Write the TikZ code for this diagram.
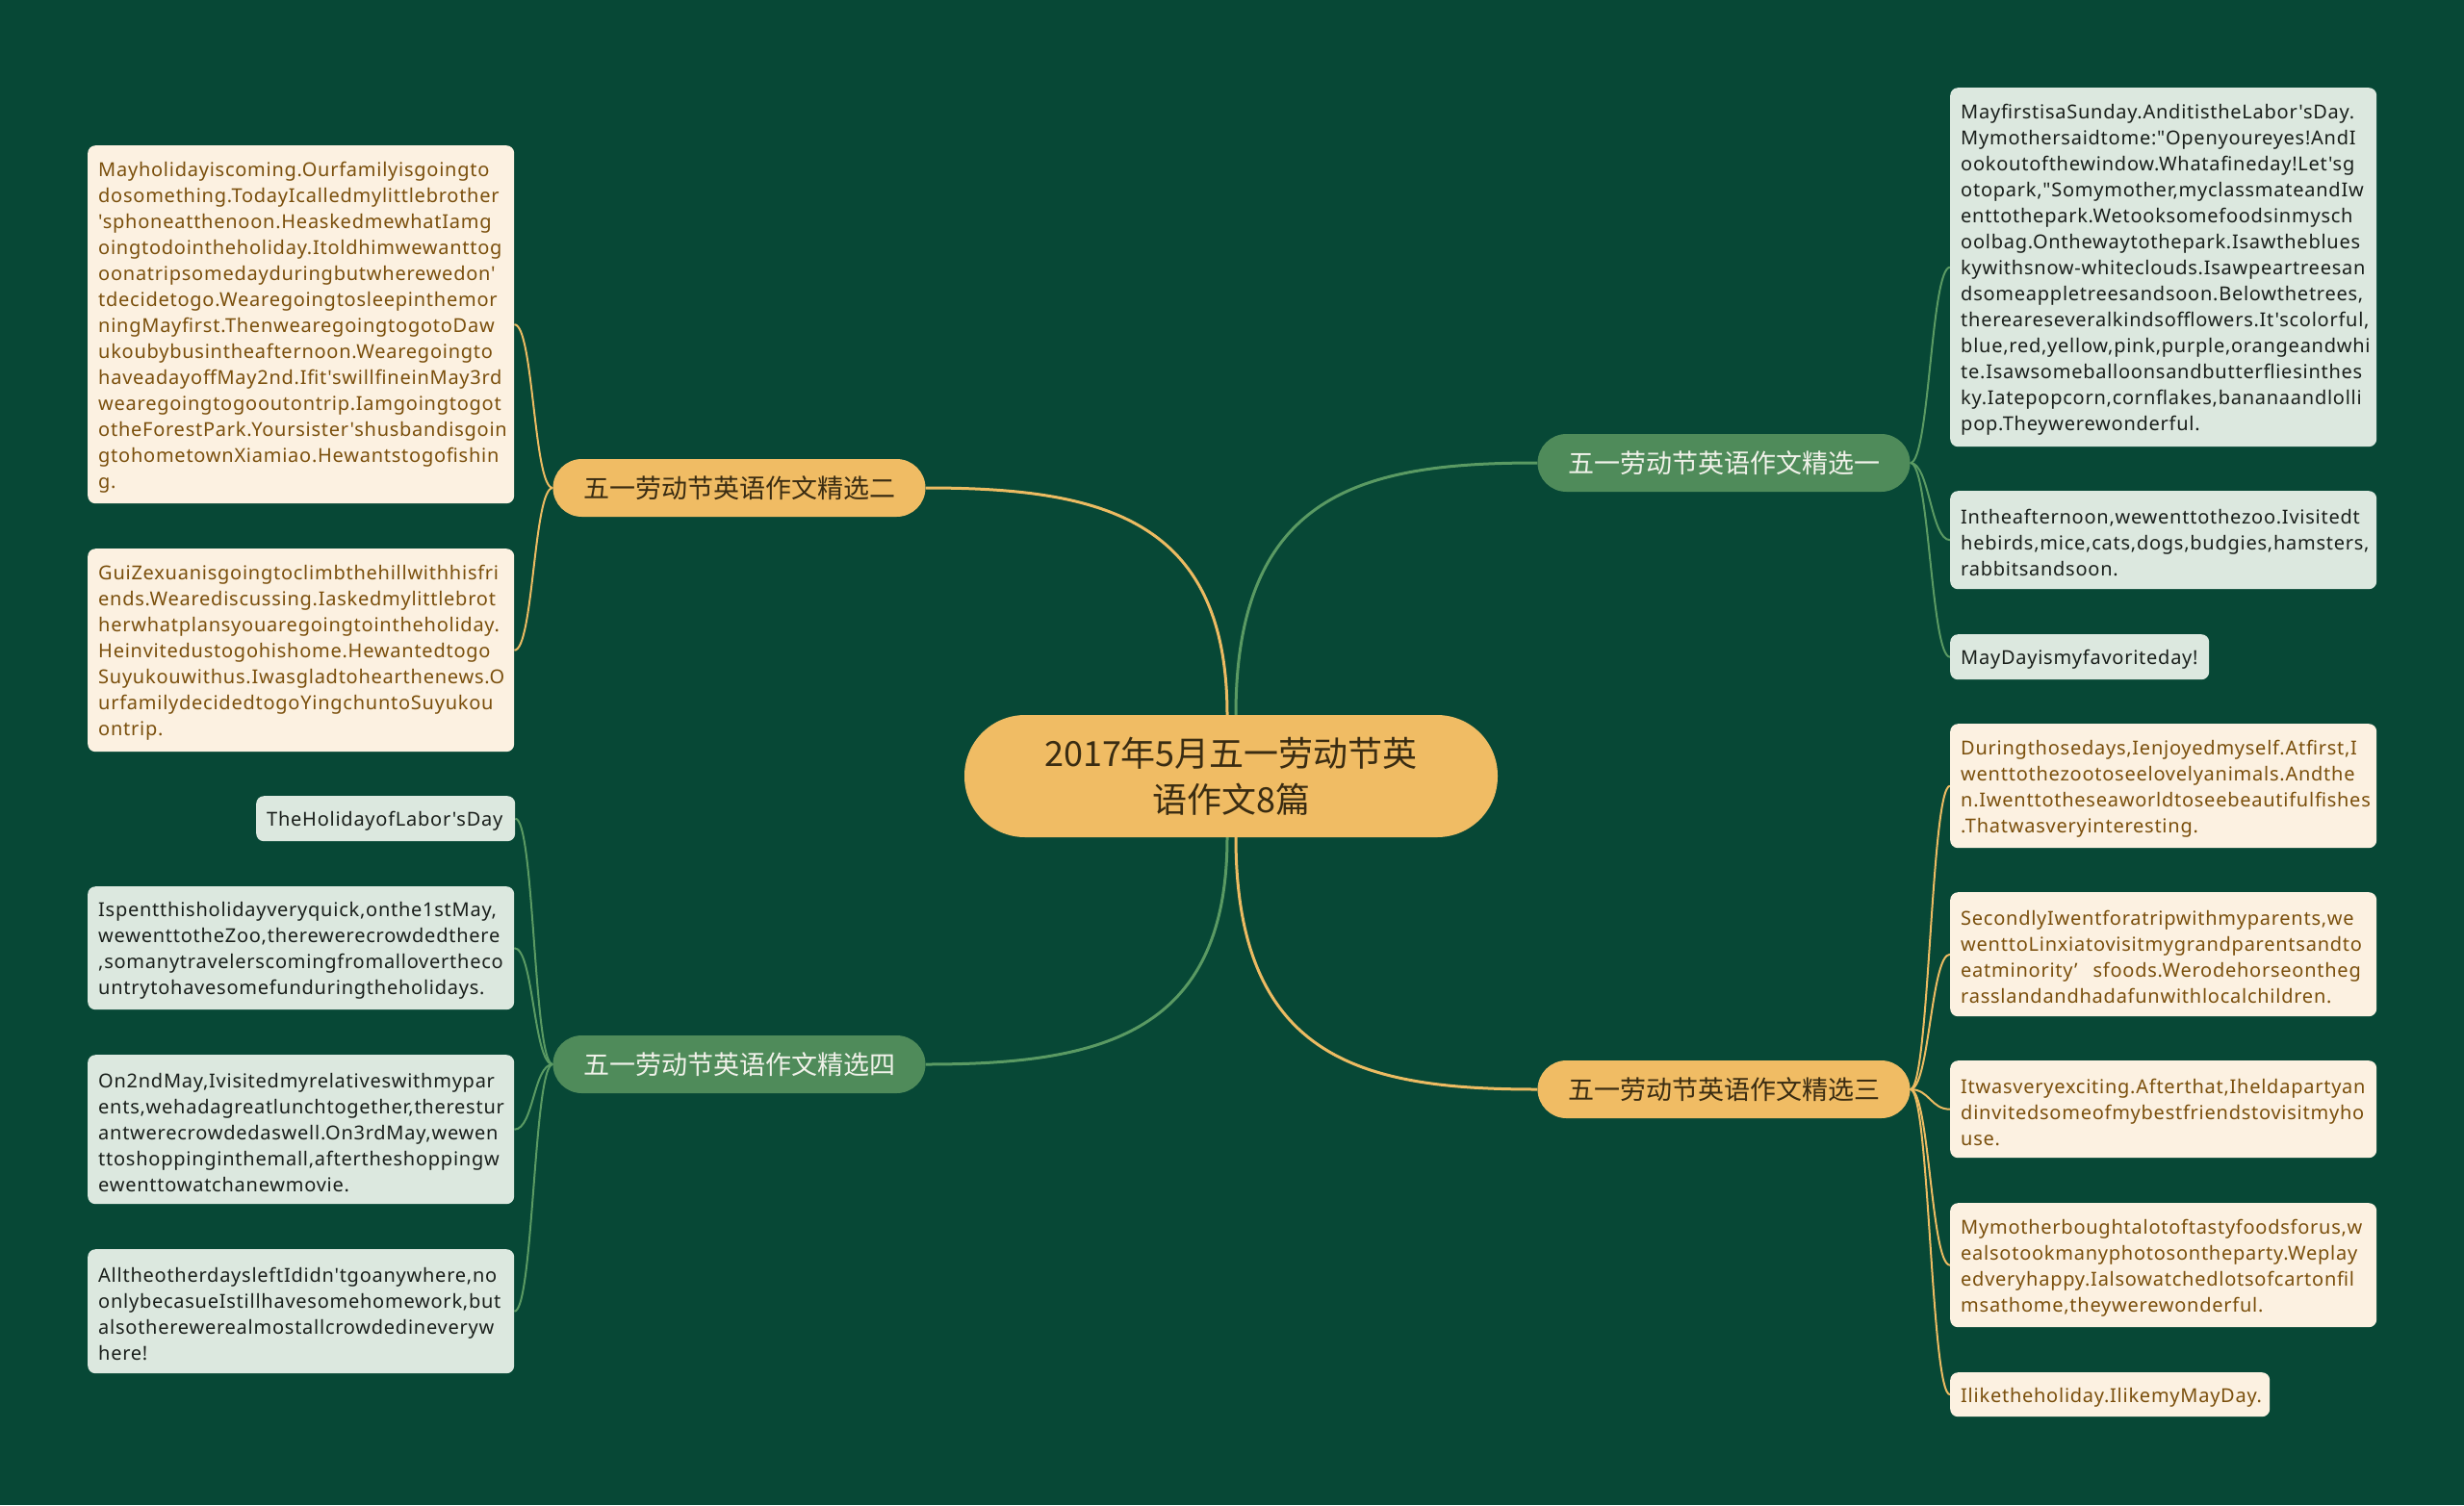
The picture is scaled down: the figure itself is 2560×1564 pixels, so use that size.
\documentclass[tikz,border=0pt]{standalone}
\usepackage{fontspec}
\newfontfamily\cjk{Noto Sans CJK SC}
\newfontfamily\leaffont{Noto Sans}[LetterSpace=3.75]
\definecolor{bgc}{HTML}{074836}
\definecolor{orangec}{HTML}{F0BC64}
\definecolor{greenb}{HTML}{4F8B5A}
\definecolor{creamc}{HTML}{FCF1E1}
\definecolor{palec}{HTML}{DCE8DF}
\definecolor{brownc}{HTML}{7A4F0C}
\definecolor{darkc}{HTML}{1A1F1B}
\definecolor{titlec}{HTML}{3A2C12}
\definecolor{lightt}{HTML}{F1F2EA}
\definecolor{olinec}{HTML}{ECBB62}
\definecolor{glinec}{HTML}{5A9A63}
\hyphenpenalty=10000
\exhyphenpenalty=10000
\pgfdeclarelayer{back}
\pgfdeclarelayer{lines}
\pgfsetlayers{back,lines,main}
\tikzset{
  leafbase/.style={rounded corners=8pt, inner xsep=11pt, inner ysep=0pt, align=left,
    font=\leaffont\fontsize{20}{27}\selectfont, anchor=north west,
    execute at begin node={\rule{0pt}{21pt}}},
  cream/.style={leafbase, fill=creamc, text=brownc},
  pale/.style={leafbase, fill=palec, text=darkc},
  branch/.style={rounded corners=30pt, minimum width=387pt, minimum height=60pt, inner sep=0pt,
    font=\cjk\fontsize{27}{32}\selectfont},
  obranch/.style={branch, fill=orangec, text=titlec},
  gbranch/.style={branch, fill=greenb, text=lightt},
  oline/.style={draw=olinec, line width=3pt},
  gline/.style={draw=glinec, line width=3pt},
  olinet/.style={draw=olinec, line width=2pt},
  glinet/.style={draw=glinec, line width=2pt}
}
\begin{document}
\begin{tikzpicture}[x=1pt,y=-1pt]
\begin{pgfonlayer}{back}
\fill[bgc] (0,0) rectangle (2560,1564);
\end{pgfonlayer}
\useasboundingbox (0,0) rectangle (2560,1564);

% center
\node[fill=orangec, rounded corners=63pt, minimum width=554pt, minimum height=127pt, inner sep=0pt,
  align=center, font=\cjk\fontsize{36}{48}\selectfont, text=titlec] (c) at (1279,806.5)
  {2017年5月五一劳动节英\\语作文8篇};

% branches
\node[obranch] (b2) at (768,507) {五一劳动节英语作文精选二};
\node[gbranch] (b4) at (768,1106) {五一劳动节英语作文精选四};
\node[gbranch] (b1) at (1791,481) {五一劳动节英语作文精选一};
\node[obranch] (b3) at (1791,1132) {五一劳动节英语作文精选三};

% left leaves
\node[cream, text width=421pt, minimum height=372pt] (l1) at (91,151) {Mayholidayiscoming.Ourfamilyisgoingto\\dosomething.TodayIcalledmylittlebrother\\'sphoneatthenoon.HeaskedmewhatIamg\\oingtodointheholiday.Itoldhimwewanttog\\oonatripsomedayduringbutwherewedon'\\tdecidetogo.Wearegoingtosleepinthemor\\ningMayfirst.ThenwearegoingtogotoDaw\\ukoubybusintheafternoon.Wearegoingto\\haveadayoffMay2nd.Ifit'swillfineinMay3rd\\wearegoingtogooutontrip.Iamgoingtogot\\otheForestPark.Yoursister'shusbandisgoin\\gtohometownXiamiao.Hewantstogofishin\\g.};
\node[cream, text width=421pt, minimum height=211pt] (l2) at (91,570) {GuiZexuanisgoingtoclimbthehillwithhisfri\\ends.Wearediscussing.Iaskedmylittlebrot\\herwhatplansyouaregoingtointheholiday.\\Heinvitedustogohishome.Hewantedtogo\\Suyukouwithus.Iwasgladtohearthenews.O\\urfamilydecidedtogoYingchuntoSuyukou\\ontrip.};
\node[pale, text width=247pt, minimum height=47pt] (l3) at (266,827) {TheHolidayofLabor'sDay};
\node[pale, text width=421pt, minimum height=128pt] (l4) at (91,921) {Ispentthisholidayveryquick,onthe1stMay,\\wewenttotheZoo,therewerecrowdedthere\\,somanytravelerscomingfromallovertheco\\untrytohavesomefunduringtheholidays.};
\node[pale, text width=421pt, minimum height=155pt] (l5) at (91,1096) {On2ndMay,Ivisitedmyrelativeswithmypar\\ents,wehadagreatlunchtogether,therestur\\antwerecrowdedaswell.On3rdMay,wewen\\ttoshoppinginthemall,aftertheshoppingw\\ewenttowatchanewmovie.};
\node[pale, text width=421pt, minimum height=129pt] (l6) at (91,1298) {AlltheotherdaysleftIdidn'tgoanywhere,no\\onlybecasueIstillhavesomehomework,but\\alsotherewerealmostallcrowdedineveryw\\here!};

% right leaves
\node[pale, text width=421pt, minimum height=373pt] (r1) at (2026,91) {MayfirstisaSunday.AnditistheLabor'sDay.\\Mymothersaidtome:"Openyoureyes!AndI\\ookoutofthewindow.Whatafineday!Let'sg\\otopark,"Somymother,myclassmateandIw\\enttothepark.Wetooksomefoodsinmysch\\oolbag.Onthewaytothepark.Isawtheblues\\kywithsnow-whiteclouds.Isawpeartreesan\\dsomeappletreesandsoon.Belowthetrees,\\thereareseveralkindsofflowers.It'scolorful,\\blue,red,yellow,pink,purple,orangeandwhi\\te.Isawsomeballoonsandbutterfliesinthes\\ky.Iatepopcorn,cornflakes,bananaandlolli\\pop.Theywerewonderful.};
\node[pale, text width=421pt, minimum height=102pt] (r2) at (2026,510) {Intheafternoon,wewenttothezoo.Ivisitedt\\hebirds,mice,cats,dogs,budgies,hamsters,\\rabbitsandsoon.};
\node[pale, text width=247pt, minimum height=47pt] (r3) at (2026,659) {MayDayismyfavoriteday!};
\node[cream, text width=421pt, minimum height=129pt] (r4) at (2026,752) {Duringthosedays,Ienjoyedmyself.Atfirst,I\\wenttothezootoseelovelyanimals.Andthe\\n.Iwenttotheseaworldtoseebeautifulfishes\\.Thatwasveryinteresting.};
\node[cream, text width=421pt, minimum height=129pt] (r5) at (2026,927) {SecondlyIwentforatripwithmyparents,we\\wenttoLinxiatovisitmygrandparentsandto\\eatminority’\kern16pt sfoods.Werodehorseontheg\\rasslandandhadafunwithlocalchildren.};
\node[cream, text width=421pt, minimum height=101pt] (r6) at (2026,1102) {Itwasveryexciting.Afterthat,Iheldapartyan\\dinvitedsomeofmybestfriendstovisitmyho\\use.};
\node[cream, text width=421pt, minimum height=129pt] (r7) at (2026,1250) {Mymotherboughtalotoftastyfoodsforus,w\\ealsotookmanyphotosontheparty.Weplay\\edveryhappy.Ialsowatchedlotsofcartonfil\\msathome,theywerewonderful.};
\node[cream, text width=310pt, minimum height=46pt] (r8) at (2026,1426) {Iliketheholiday.IlikemyMayDay.};

\begin{pgfonlayer}{lines}
% center to branches
\draw[oline] ([xshift=-4pt]c.north) .. controls +(0,-206) and +(180,0) .. (b2.east);
\draw[gline] ([xshift=5pt]c.north) .. controls +(0,-232) and +(-180,0) .. (b1.west);
\draw[gline] ([xshift=-4pt]c.south) .. controls +(0,206) and +(180,0) .. (b4.east);
\draw[oline] ([xshift=5pt]c.south) .. controls +(0,232) and +(-180,0) .. (b3.west);
% branch 2
\foreach \l in {l1,l2}
  \draw[olinet] (b2.west) .. controls +(-20,0) and +(20,0) .. (\l.east);
% branch 4
\foreach \l in {l3,l4,l5,l6}
  \draw[glinet] (b4.west) .. controls +(-20,0) and +(20,0) .. (\l.east);
% branch 1
\foreach \r in {r1,r2,r3}
  \draw[glinet] (b1.east) .. controls +(20,0) and +(-20,0) .. (\r.west);
% branch 3
\foreach \r in {r4,r5,r6,r7,r8}
  \draw[olinet] (b3.east) .. controls +(20,0) and +(-20,0) .. (\r.west);
\end{pgfonlayer}
\end{tikzpicture}
\end{document}
